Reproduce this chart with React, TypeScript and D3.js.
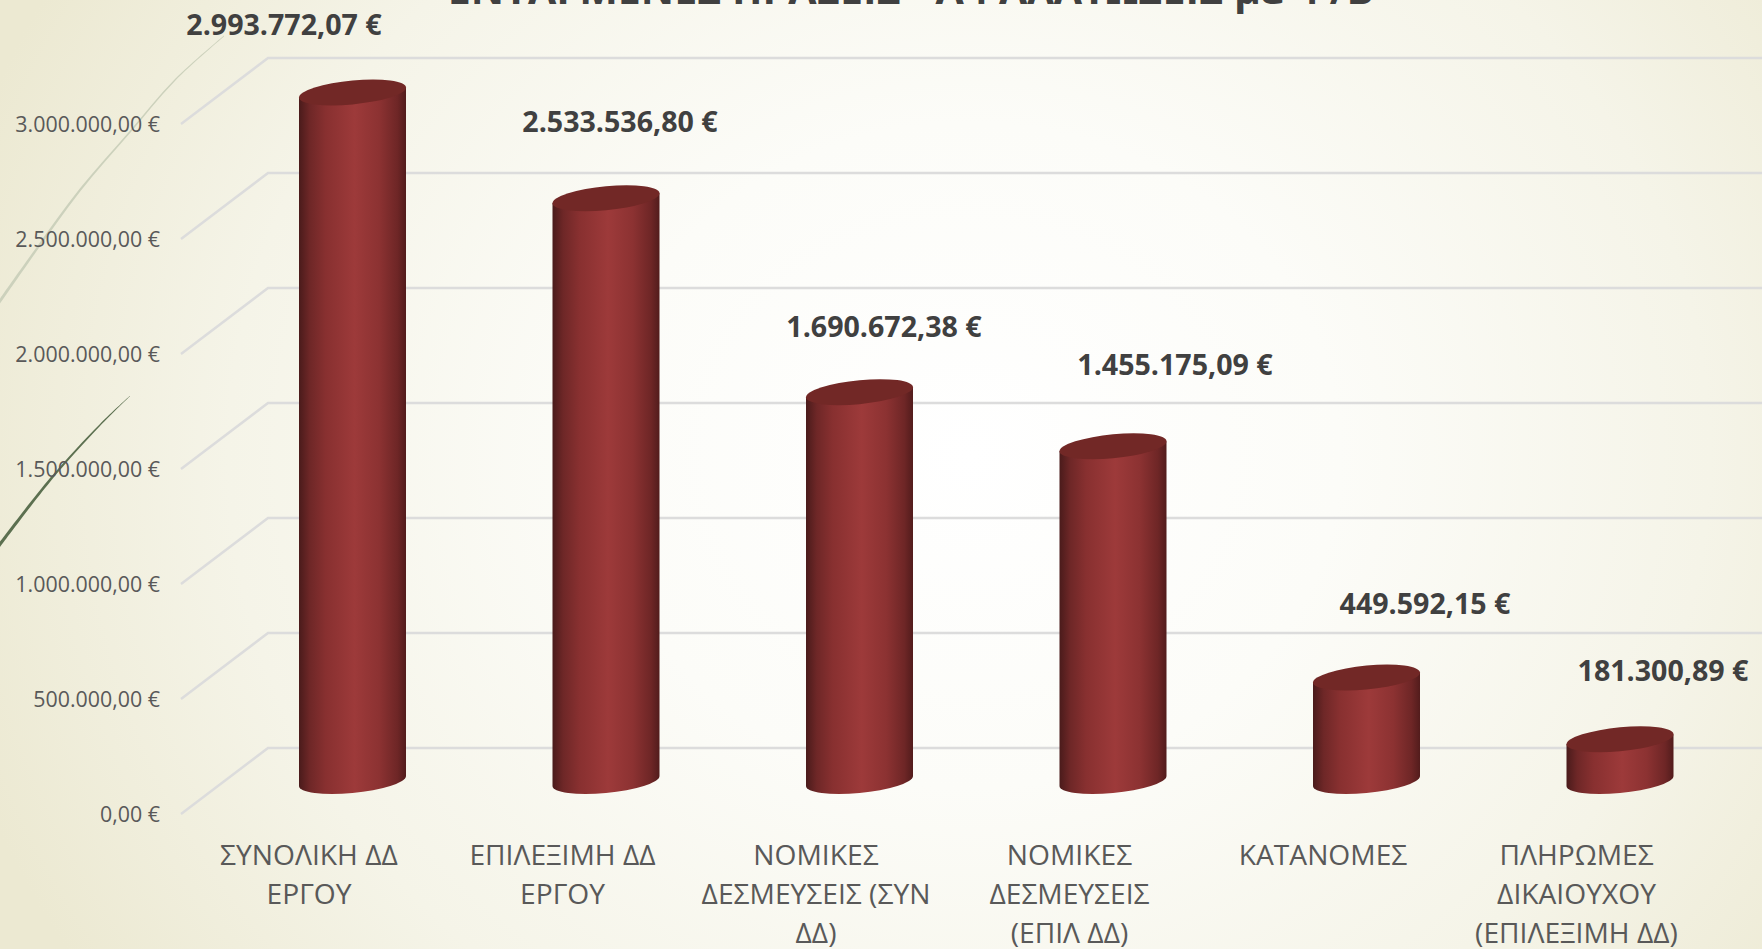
import React from "react";
import * as d3 from "d3";

const W = 1762, H = 949;
const titleText = "ΕΝΤΑΓΜΕΝΕΣ ΠΡΑΞΕΙΣ - ΑΦΑΛΑΤΩΣΕΙΣ με Φ/Β";
const categories = [
  ["ΣΥΝΟΛΙΚΗ ΔΔ", "ΕΡΓΟΥ"],
  ["ΕΠΙΛΕΞΙΜΗ ΔΔ", "ΕΡΓΟΥ"],
  ["ΝΟΜΙΚΕΣ", "ΔΕΣΜΕΥΣΕΙΣ (ΣΥΝ", "ΔΔ)"],
  ["ΝΟΜΙΚΕΣ", "ΔΕΣΜΕΥΣΕΙΣ", "(ΕΠΙΛ ΔΔ)"],
  ["ΚΑΤΑΝΟΜΕΣ"],
  ["ΠΛΗΡΩΜΕΣ", "ΔΙΚΑΙΟΥΧΟΥ", "(ΕΠΙΛΕΞΙΜΗ ΔΔ)"],
];
const values = [2993772.07, 2533536.8, 1690672.38, 1455175.09, 449592.15, 181300.89];
const valueLabels = ["2.993.772,07 €", "2.533.536,80 €", "1.690.672,38 €", "1.455.175,09 €", "449.592,15 €", "181.300,89 €"];
const labelCenterX = [284, 620, 884, 1175, 1425, 1663];
const labelCenterY = [25, 122, 327, 365, 604, 671];
const ticks = [0, 500000, 1000000, 1500000, 2000000, 2500000, 3000000];
const tickLabels = ["0,00 €", "500.000,00 €", "1.000.000,00 €", "1.500.000,00 €", "2.000.000,00 €", "2.500.000,00 €", "3.000.000,00 €"];

const paleCurve: [number, number][] = [[-2, 304], [36, 250], [80, 190], [129, 133], [175, 80], [224, 36]];
const darkCurve: [number, number][] = [[-2, 547], [50, 480], [100, 425], [130, 396]];

const y = d3.scaleLinear().domain([0, 3000000]).range([814, 124]);
const x = d3.scaleBand<number>().domain(d3.range(6)).range([182.25, 1703.25]);
const depthX = 87, depthY = 66;
const barW = 107, ry = 12, shear = 5 / 53.5;

const taper = (pts: [number, number][], w0: number, w1: number) => {
  const n = pts.length - 1;
  return d3.area<[number, number]>()
    .x(d => d[0])
    .y0((d, i) => d[1] - (w0 + (w1 - w0) * i / n) / 2)
    .y1((d, i) => d[1] + (w0 + (w1 - w0) * i / n) / 2)
    .curve(d3.curveCatmullRom)(pts) as string;
};

export default function App() {
  const a = barW / 2;
  const bw = x.bandwidth();
  return (
    <svg width={W} height={H} viewBox={`0 0 ${W} ${H}`} style={{ position: "absolute", left: 0, top: 0, display: "block" }}
      fontFamily="'Open Sans', sans-serif">
      <defs>
        <radialGradient id="bg" gradientUnits="userSpaceOnUse" cx={0} cy={0} r={1}
          gradientTransform={`translate(${W * 0.55} ${H * 0.48}) scale(${W * 0.6} ${H * 1.0})`}>
          <stop offset="0" stopColor="#ffffff" />
          <stop offset="0.35" stopColor="#fcfcf8" />
          <stop offset="0.7" stopColor="#f5f4e8" />
          <stop offset="1" stopColor="#ece9d2" />
        </radialGradient>
        <linearGradient id="cyl" x1="0" x2="1" y1="0" y2="0">
          <stop offset="0" stopColor="#4a1b1b" />
          <stop offset="0.1" stopColor="#6e2727" />
          <stop offset="0.25" stopColor="#883030" />
          <stop offset="0.52" stopColor="#9d3a3a" />
          <stop offset="0.75" stopColor="#8c3232" />
          <stop offset="0.92" stopColor="#6e2626" />
          <stop offset="1" stopColor="#521c1c" />
        </linearGradient>
      </defs>
      <rect width={W} height={H} fill="url(#bg)" />

      <path d={taper(paleCurve, 5, 1)} fill="#ccd1bc" />
      <path d={taper(darkCurve, 5.5, 0.6)} fill="#5c7050" />

      <text x={911} y={4} textAnchor="middle" fontSize={41} fontWeight={700} fill="#404040">{titleText}</text>

      {ticks.map((t, i) => {
        const yf = y(t), yb = yf - depthY;
        return (
          <g key={t}>
            <path d={`M181,${yf}L${181 + depthX},${yb}L${W},${yb}`} fill="none" stroke="#dcdcdc" strokeWidth={2.5} />
            <text x={160} y={yf} dy="0.36em" textAnchor="end" fontSize={21.4} fill="#595959">{tickLabels[i]}</text>
          </g>
        );
      })}

      {values.map((v, i) => {
        const cx = (x(i) as number) + bw / 2 + depthX / 2;
        const yt = y(v) - depthY / 2;
        const yb = y(0) - depthY / 2;
        const h = yb - yt;
        const m = `matrix(1,${-shear},0,1,${cx},${yb})`;
        return (
          <g key={i} transform={m}>
            <path d={`M${-a},${-h}L${-a},0A${a},${ry} 0 0 0 ${a},0L${a},${-h}Z`} fill="url(#cyl)" />
            <ellipse cx={0} cy={-h} rx={a} ry={ry} fill="#722826" />
          </g>
        );
      })}

      {valueLabels.map((s, i) => (
        <text key={s} x={labelCenterX[i]} y={labelCenterY[i]} dy="0.36em" textAnchor="middle" fontSize={28.6} fontWeight={700} fill="#404040">{s}</text>
      ))}

      {categories.map((lines, i) => (
        <text key={i} textAnchor="middle" fontSize={28.2} fill="#595959">
          {lines.map((l, j) => (
            <tspan key={j} x={(x(i) as number) + bw / 2} y={855 + j * 39} dy="0.36em">{l}</tspan>
          ))}
        </text>
      ))}
    </svg>
  );
}
